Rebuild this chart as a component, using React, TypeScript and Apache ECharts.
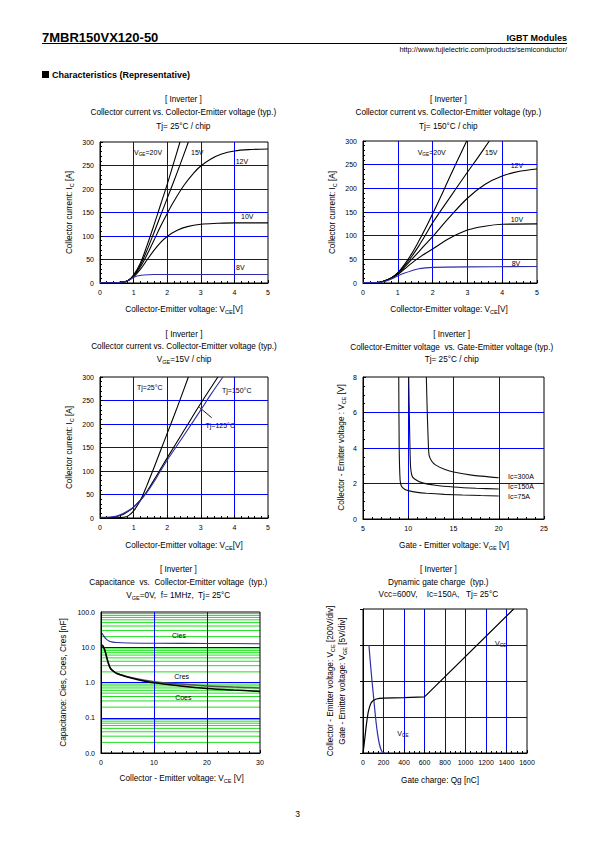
import React, { useEffect, useRef } from 'react';
import * as echarts from 'echarts';

// ---------- Chart 1: Ic vs Vce, Tj=25°C (VGE = 20,15,12,10,8 V) ----------
const c1_20V = [[0,1],[0.4,0.5],[0.7,2],[0.85,6],[1.0,17],[1.2,42],[1.4,80],[1.6,122],[1.8,166],[2.0,210],[2.2,257],[2.38,300]];
const c1_15V = [[0,1],[0.4,0.5],[0.7,2],[0.85,6],[1.0,16],[1.2,38],[1.4,70],[1.6,106],[1.8,143],[2.0,180],[2.2,217],[2.4,255],[2.63,300]];
const c1_12V = [[0,1],[0.4,0.5],[0.7,2],[0.85,6],[1.0,15],[1.2,34],[1.4,60],[1.6,90],[1.8,120],[2.0,148],[2.2,174],[2.5,208],[2.8,235],[3.0,249],[3.3,264],[3.6,274],[4.0,281],[4.5,284],[5.0,285]];
const c1_10V = [[0,1],[0.4,0.5],[0.7,2],[0.85,6],[1.0,13],[1.2,29],[1.4,49],[1.6,69],[1.8,86],[2.0,99],[2.3,112],[2.6,120],[3.0,125],[3.5,127],[4.0,128],[5.0,128]];
const c1_8V = [[0,1],[0.4,0.5],[0.7,2],[0.85,6],[1.0,12],[1.1,15],[1.3,17],[1.6,18],[3.0,18],[5.0,18]];

// ---------- Chart 2: Ic vs Vce, Tj=150°C ----------
const c2_20V = [[0,1],[0.4,1],[0.6,4],[0.8,10],[1.0,22],[1.2,40],[1.4,62],[1.6,88],[1.8,116],[2.0,146],[2.2,177],[2.4,209],[2.6,241],[2.8,272],[2.98,300]];
const c2_15V = [[0,1],[0.4,1],[0.6,4],[0.8,10],[1.0,21],[1.2,37],[1.4,56],[1.6,78],[1.8,102],[2.0,127],[2.5,181],[3.0,234],[3.3,265],[3.63,300]];
const c2_12V = [[0,1],[0.4,1],[0.6,4],[0.8,10],[1.0,20],[1.2,34],[1.4,50],[1.6,66],[1.8,82],[2.0,98],[2.5,140],[3.0,179],[3.5,208],[4.0,226],[4.5,236],[5.0,241]];
const c2_10V = [[0,1],[0.4,1],[0.6,4],[0.8,10],[1.0,18],[1.2,30],[1.4,42],[1.6,53],[1.8,63],[2.0,72],[2.5,95],[3.0,112],[3.5,120],[4.0,124],[5.0,125]];
const c2_8V = [[0,1],[0.4,1],[0.6,3],[0.8,8],[1.0,15],[1.2,21],[1.4,26],[1.6,30],[1.8,32],[2.0,33],[3.0,34],[5.0,35]];

// ---------- Chart 3: Ic vs Vce, VGE=15V, Tj = 25/125/150°C ----------
const c3_25 = [[0,0.5],[0.5,0.5],[0.7,1.5],[0.85,5],[1.0,15],[1.2,37],[1.4,70],[1.6,106],[1.8,143],[2.0,180],[2.2,217],[2.4,255],[2.63,300]];
const c3_125 = [[0,1],[0.3,1],[0.5,3],[0.7,8],[0.9,17],[1.0,23],[1.2,38],[1.4,57],[1.6,80],[1.8,104],[2.0,128],[2.5,186],[3.0,244],[3.51,300]];
const c3_150 = [[0,1.5],[0.3,2],[0.5,4],[0.7,10],[0.9,18],[1.0,23],[1.2,37],[1.4,55],[1.6,76],[1.8,100],[2.0,123],[2.5,176],[3.0,230],[3.3,263],[3.66,300]];

// ---------- Chart 4: Vce vs Vge, Tj=25°C ----------
const c4_300A = [[12.0,8],[12.1,6],[12.2,4.5],[12.3,3.6],[12.6,3.25],[13,3.05],[14,2.8],[15,2.65],[17,2.47],[20,2.32]];
const c4_150A = [[10.05,8],[10.15,5],[10.25,3],[10.4,2.45],[10.7,2.25],[11.5,2.05],[13,1.9],[15,1.8],[17.5,1.73],[20,1.69]];
const c4_75A = [[8.95,8],[9.0,4],[9.1,2.2],[9.25,1.85],[9.6,1.68],[10,1.6],[11,1.5],[12,1.45],[14,1.39],[16,1.35],[18,1.32],[20,1.3]];

// ---------- Chart 5: Capacitance vs Vce ----------
const c5_Cies = [[0.2,25],[0.5,21],[1.0,17],[1.5,15],[2,14.2],[3,13.6],[5,13.2],[10,13],[20,12.8],[30,12.6]];
const c5_Cres = [[0.2,11.5],[0.5,10],[0.8,7.5],[1.1,5],[1.4,3.5],[1.8,2.5],[2.4,2.05],[3,1.8],[4,1.6],[5,1.45],[7,1.25],[10,1.05],[15,0.9],[20,0.8],[25,0.74],[30,0.7]];
const c5_Coes = [[0.2,11.5],[0.5,10],[0.8,7.5],[1.1,5],[1.4,3.5],[1.8,2.5],[2.4,2.05],[3,1.8],[4,1.6],[5,1.43],[7,1.2],[10,0.98],[15,0.8],[20,0.68],[25,0.61],[30,0.56]];
const c5_minorGrid = [0.02,0.03,0.04,0.05,0.06,0.07,0.08,0.09,0.2,0.3,0.4,0.5,0.6,0.7,0.8,0.9,2,3,4,5,6,7,8,9,20,30,40,50,60,70,80,90];

// ---------- Chart 6: Dynamic gate charge ----------
const c6_Vce = [[58,600],[72,500],[88,400],[105,300],[122,200],[140,115],[160,50],[180,13],[200,1],[215,0]];
const c6_Vge = [[0,0],[10,1.1],[20,2.3],[30,3.6],[40,4.7],[50,5.6],[60,6.2],[70,6.65],[80,6.98],[100,7.3],[130,7.5],[160,7.58],[200,7.63],[400,7.7],[600,7.8],[1470,20]];

const F = 'Liberation Sans, Arial, Helvetica, sans-serif';
const BLUE = '#0000ff';
const CURVE_BLUE = '#2d2da8';

function richStyles(fs: number) {
  return {
    s: { fontSize: fs * 0.68, fontFamily: F, fill: '#000', color: '#000', verticalAlign: 'bottom', lineHeight: fs + 3 },
  };
}

function txt(x: number, y: number, text: string, o: any = {}) {
  const fs = o.fs ?? 8.2;
  const align = o.align ?? 'center';
  return {
    type: 'text',
    x, y,
    rotation: o.rot ?? 0,
    silent: true,
    style: {
      text,
      fontSize: fs,
      fontFamily: F,
      fontWeight: o.bold ? 'bold' : 'normal',
      fill: '#000',
      align, textAlign: align,
      verticalAlign: 'middle', textVerticalAlign: 'middle',
      lineHeight: fs + 3,
      rich: richStyles(fs),
    },
  };
}

function xAx(gi: number, min: number, max: number, interval: number, minor: number) {
  return {
    gridIndex: gi, type: 'value', min, max, interval,
    axisLine: { show: true, onZero: false, lineStyle: { color: '#000', width: 1 } },
    axisTick: { show: true, inside: true, length: 3, lineStyle: { color: '#000' } },
    minorTick: { show: minor > 0, splitNumber: minor || 5, length: 2, lineStyle: { color: '#000' } },
    axisLabel: { show: true, fontSize: 7, color: '#000', fontFamily: F, margin: 6, formatter: (v: number) => String(v) },
    splitLine: { show: true, showMinLine: false, showMaxLine: false, lineStyle: { color: BLUE, width: 1 } },
  };
}
function yAx(gi: number, min: number, max: number, interval: number, minor: number, showLabel = true) {
  return {
    gridIndex: gi, type: 'value', min, max, interval,
    axisLine: { show: true, onZero: false, lineStyle: { color: '#000', width: 1 } },
    axisTick: { show: true, inside: showLabel, length: 3, lineStyle: { color: '#000' } },
    minorTick: { show: minor > 0, splitNumber: minor || 5, length: 2, lineStyle: { color: '#000' } },
    axisLabel: { show: showLabel, fontSize: 7, color: '#000', fontFamily: F, margin: 6, formatter: (v: number) => String(v) },
    splitLine: { show: true, showMinLine: false, showMaxLine: false, lineStyle: { color: BLUE, width: 1 } },
  };
}

function ln(gi: number, data: number[][], color = '#000', width = 1.1, extra: any = {}) {
  return {
    type: 'line', xAxisIndex: gi, yAxisIndex: gi, data,
    showSymbol: false, symbol: 'none', smooth: 0.35,
    lineStyle: { color, width }, silent: true, z: 3, ...extra,
  };
}

export default function App() {
  const ref = useRef<HTMLDivElement>(null);
  useEffect(() => {
    document.body.style.margin = '0';
    const chart = echarts.init(ref.current!, null, { renderer: 'svg' });
    const grids = [
      { left: 100, top: 142, width: 168, height: 141 },
      { left: 363, top: 141, width: 174, height: 142 },
      { left: 100, top: 377, width: 168, height: 141 },
      { left: 363, top: 377, width: 181, height: 142 },
      { left: 101, top: 612, width: 159, height: 141 },
      { left: 363, top: 609, width: 164, height: 144 },
    ].map((g) => ({ ...g, show: true, borderColor: '#000', borderWidth: 1, backgroundColor: 'transparent', containLabel: false }));

    const xAxis = [
      xAx(0, 0, 5, 1, 5),
      xAx(1, 0, 5, 1, 5),
      xAx(2, 0, 5, 1, 5),
      xAx(3, 5, 25, 5, 5),
      xAx(4, 0, 30, 10, 5),
      xAx(5, 0, 1600, 200, 4),
    ];
    const yAxis: any[] = [
      yAx(0, 0, 300, 50, 5),
      yAx(1, 0, 300, 50, 5),
      yAx(2, 0, 300, 50, 5),
      yAx(3, 0, 8, 2, 4),
      {
        gridIndex: 4, type: 'log', logBase: 10, min: 0.01, max: 100,
        axisLine: { show: true, onZero: false, lineStyle: { color: '#000' } },
        axisTick: { show: false },
        axisLabel: { show: true, fontSize: 7, color: '#000', fontFamily: F, margin: 6, formatter: (v: number) => Number(v).toFixed(1) },
        splitLine: { show: true, showMinLine: false, showMaxLine: false, lineStyle: { color: BLUE, width: 1 } },
      },
      yAx(5, 0, 800, 200, 0, false),
      { gridIndex: 5, type: 'value', min: 0, max: 20, interval: 5, show: false, splitLine: { show: false } },
    ];

    const series: any[] = [
      ln(0, c1_20V), ln(0, c1_15V), ln(0, c1_12V), ln(0, c1_10V), ln(0, c1_8V, CURVE_BLUE),
      ln(1, c2_20V), ln(1, c2_15V), ln(1, c2_12V), ln(1, c2_10V), ln(1, c2_8V, CURVE_BLUE),
      ln(2, c3_25), ln(2, c3_125), ln(2, c3_150, CURVE_BLUE),
      ln(3, c4_300A, '#111', 1.1, { smooth: 0.2 }),
      ln(3, c4_150A, '#111', 1.1, { smooth: 0.2 }),
      ln(3, c4_75A, '#111', 1.1, { smooth: 0.2 }),
      ...c5_minorGrid.map((v) => ({
        type: 'line', xAxisIndex: 4, yAxisIndex: 4, data: [[0, v], [30, v]],
        showSymbol: false, symbol: 'none', silent: true, z: -1,
        lineStyle: { color: '#1ee01e', width: 1 },
      })),
      ln(4, c5_Cies, CURVE_BLUE, 1.1),
      ln(4, c5_Cres, '#555', 1.5),
      ln(4, c5_Coes, '#000', 1.5),
      ln(5, c6_Vce, CURVE_BLUE, 1.2),
      { ...ln(5, c6_Vge, '#000', 1.2, { smooth: false }), yAxisIndex: 6 },
    ];

    const graphic: any[] = [
      // header
      txt(42, 37, '7MBR150VX120-50', { fs: 13, bold: true, align: 'left' }),
      { type: 'line', silent: true, shape: { x1: 42, y1: 43.5, x2: 567, y2: 43.5 }, style: { stroke: '#000', lineWidth: 1.2 } },
      txt(567, 37.5, 'IGBT Modules', { fs: 9, bold: true, align: 'right' }),
      txt(567, 49.5, 'http://www.fujielectric.com/products/semiconductor/', { fs: 7.4, align: 'right' }),
      { type: 'rect', silent: true, shape: { x: 42, y: 71, width: 7, height: 7 }, style: { fill: '#000' } },
      txt(52, 74.5, 'Characteristics (Representative)', { fs: 9, bold: true, align: 'left' }),
      txt(297.5, 814, '3', { fs: 8.5 }),

      // chart 1
      txt(183.3, 99.5, '[ Inverter ]'),
      txt(183.3, 112.5, 'Collector current vs. Collector-Emitter voltage (typ.)'),
      txt(183.3, 126, 'Tj= 25°C / chip'),
      txt(184, 309, 'Collector-Emitter voltage: V{s|CE}[V]'),
      txt(69.5, 212.5, 'Collector current: I{s|C} [A]', { rot: Math.PI / 2 }),
      txt(134, 152, 'V{s|GE}=20V', { fs: 7, align: 'left' }),
      txt(191, 152, '15V', { fs: 7, align: 'left' }),
      txt(235.7, 161.3, '12V', { fs: 7, align: 'left' }),
      txt(241, 216, '10V', { fs: 7, align: 'left' }),
      txt(236, 267.3, '8V', { fs: 7, align: 'left' }),

      // chart 2
      txt(448.3, 99.5, '[ Inverter ]'),
      txt(448.3, 112.5, 'Collector current vs. Collector-Emitter voltage (typ.)'),
      txt(448.3, 126, 'Tj= 150°C / chip'),
      txt(449, 309, 'Collector-Emitter voltage: V{s|CE}[V]'),
      txt(332, 212.5, 'Collector current: I{s|C} [A]', { rot: Math.PI / 2 }),
      txt(417.7, 152, 'V{s|GE}=20V', { fs: 7, align: 'left' }),
      txt(485, 152, '15V', { fs: 7, align: 'left' }),
      txt(510.7, 165.3, '12V', { fs: 7, align: 'left' }),
      txt(510.7, 219.3, '10V', { fs: 7, align: 'left' }),
      txt(511.7, 263.3, '8V', { fs: 7, align: 'left' }),

      // chart 3
      txt(184, 334, '[ Inverter ]'),
      txt(184, 346.5, 'Collector current vs. Collector-Emitter voltage (typ.)'),
      txt(184, 359, 'V{s|GE}=15V / chip'),
      txt(184, 545, 'Collector-Emitter voltage: V{s|CE}[V]'),
      txt(69.5, 447.5, 'Collector current: I{s|C} [A]', { rot: Math.PI / 2 }),
      txt(137, 387, 'Tj=25°C', { fs: 7, align: 'left' }),
      txt(222, 390, 'Tj=150°C', { fs: 7, align: 'left' }),
      txt(205.5, 425.7, 'Tj=125°C', { fs: 7, align: 'left' }),
      { type: 'line', silent: true, shape: { x1: 199.3, y1: 407.3, x2: 211.7, y2: 417.7 }, style: { stroke: '#000', lineWidth: 0.9 } },

      // chart 4
      txt(451.7, 334, '[ Inverter ]'),
      txt(451.7, 347, 'Collector-Emitter voltage  vs. Gate-Emitter voltage (typ.)'),
      txt(451.7, 359.5, 'Tj= 25°C / chip'),
      txt(454, 545, 'Gate - Emitter voltage: V{s|GE} [V]'),
      txt(341, 447.5, 'Collector - Emitter voltage : V{s|CE} [V]', { rot: Math.PI / 2 }),
      txt(508, 476.7, 'Ic=300A', { fs: 7, align: 'left' }),
      txt(508, 486.7, 'Ic=150A', { fs: 7, align: 'left' }),
      txt(508, 496, 'Ic=75A', { fs: 7, align: 'left' }),

      // chart 5
      txt(178.3, 569, '[ Inverter ]'),
      txt(178.3, 582.5, 'Capacitance  vs.  Collector-Emitter voltage  (typ.)'),
      txt(178.3, 595.5, 'V{s|GE}=0V,  f= 1MHz,  Tj= 25°C'),
      txt(181.7, 778.5, 'Collector - Emitter voltage: V{s|CE} [V]'),
      txt(63.5, 682.5, 'Capacitance: Cies, Coes, Cres [nF]', { rot: Math.PI / 2 }),
      txt(179, 635, 'Cies', { fs: 7 }),
      txt(181.7, 676.7, 'Cres', { fs: 7 }),
      txt(183.3, 697.3, 'Coes', { fs: 7 }),

      // chart 6
      txt(438.3, 569.5, '[ Inverter ]'),
      txt(438.3, 582.5, 'Dynamic gate charge  (typ.)'),
      txt(438.3, 594.5, 'Vcc=600V,    Ic=150A,   Tj= 25°C'),
      txt(440, 780, 'Gate charge: Qg [nC]'),
      txt(330, 681, 'Collector - Emitter voltage: V{s|CE} [200V/div]', { rot: Math.PI / 2 }),
      txt(342.5, 681, 'Gate - Emitter voltage: V{s|GE} [5V/div]', { rot: Math.PI / 2 }),
      txt(495, 643.3, 'V{s|GE}', { fs: 7, align: 'left' }),
      txt(397.3, 733.3, 'V{s|CE}', { fs: 7, align: 'left' }),
    ];

    chart.setOption({
      animation: false,
      textStyle: { fontFamily: F },
      grid: grids,
      xAxis,
      yAxis,
      series,
      graphic,
    });
    return () => chart.dispose();
  }, []);
  return <div ref={ref} style={{ position: 'absolute', left: 0, top: 0, width: 595, height: 842, background: '#fff' }} />;
}
